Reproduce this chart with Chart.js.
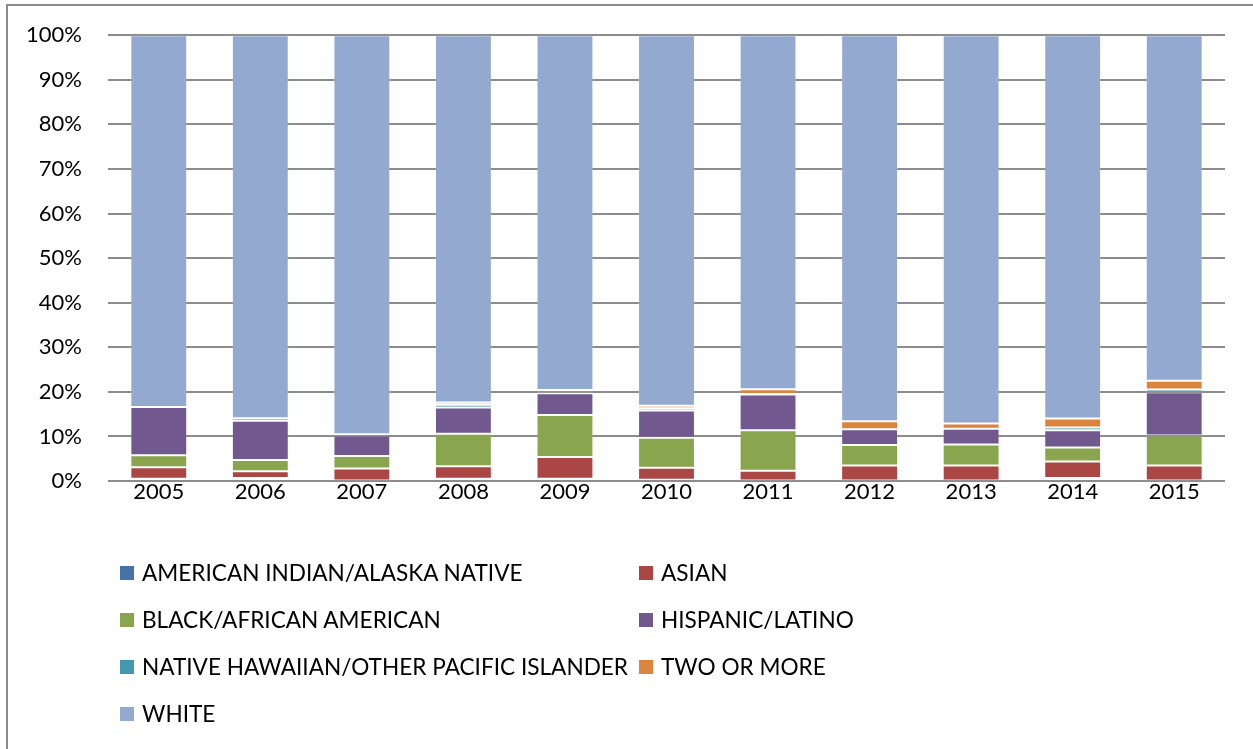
<!DOCTYPE html>
<html>
<head>
<meta charset="utf-8">
<script src="https://cdn.jsdelivr.net/npm/chart.js@4/dist/chart.umd.min.js"></script>
<style>
  html, body { margin: 0; padding: 0; background: #fff; }
  body { width: 1253px; height: 749px; position: relative; overflow: hidden; }
  #frame { position: absolute; left: 6px; top: 4px; width: 1300px; height: 800px;
           border-left: 2px solid #8a8a8a; border-top: 2px solid #8a8a8a; }
  canvas { position: absolute; left: 0; top: -4px; }
  #legend { position: absolute; left: 0; top: 0; width: 1253px; height: 749px; pointer-events: none;
            font-family: Lato, "Liberation Sans", sans-serif; font-size: 22.6px; color: #000; }
  .item { position: absolute; white-space: nowrap; line-height: 24px; height: 24px; }
  .sw { position: absolute; width: 14px; height: 14px; top: 5px; }
  .lbl { position: absolute; left: 22px; top: 0; }
</style>
</head>
<body>
<div id="frame"></div>
<canvas id="c" width="1253" height="753"></canvas>
<div id="legend"></div>
<script>
const years = ['2005','2006','2007','2008','2009','2010','2011','2012','2013','2014','2015'];
const americanIndian = [0.5, 0.7, 0.1, 0.5, 0.5, 0.3, 0.1, 0.1, 0.1, 0.7, 0.1];
const asian          = [2.6, 1.5, 2.7, 2.8, 4.9, 2.7, 2.2, 3.4, 3.4, 3.7, 3.4];
const black          = [2.7, 2.5, 2.8, 7.3, 9.4, 6.7, 9.1, 4.6, 4.7, 3.1, 6.7];
const hispanic       = [10.8, 8.8, 4.6, 5.9, 4.9, 6.1, 8.0, 3.5, 3.5, 3.9, 9.7];
const nativeHawaiian = [0.0, 0.6, 0.3, 0.6, 0.3, 0.5, 0.1, 0.0, 0.0, 0.6, 0.6];
const twoOrMore      = [0.0, 0.0, 0.0, 0.5, 0.4, 0.6, 1.1, 1.8, 1.2, 2.0, 2.0];
const white          = [83.4, 85.9, 89.5, 82.4, 79.6, 83.1, 79.4, 86.6, 87.1, 86.0, 77.5];
const yTicks = [0,10,20,30,40,50,60,70,80,90,100];

const seriesNames = ['AMERICAN INDIAN/ALASKA NATIVE','ASIAN','BLACK/AFRICAN AMERICAN','HISPANIC/LATINO',
  'NATIVE HAWAIIAN/OTHER PACIFIC ISLANDER','TWO OR MORE','WHITE'];
const seriesData = [americanIndian, asian, black, hispanic, nativeHawaiian, twoOrMore, white];
const seriesColors = ['#4572A7','#AA4643','#89A54E','#71588F','#4198AF','#DB843D','#93A9CF'];

const FONT = 'Lato, "Liberation Sans", sans-serif';

const datasets = seriesNames.map((n, i) => ({
  label: n,
  data: seriesData[i],
  backgroundColor: seriesColors[i],
  borderColor: 'rgba(255,255,255,0.12)',
  borderWidth: 1,
  borderSkipped: false,
  barPercentage: 0.56,
  categoryPercentage: 1.0
}));

const chart = new Chart(document.getElementById('c'), {
  type: 'bar',
  data: { labels: years, datasets },
  options: {
    responsive: false,
    animation: false,
    devicePixelRatio: 1,
    layout: { padding: { left: 0, right: 28, top: 31, bottom: 0 } },
    plugins: { legend: { display: false }, tooltip: { enabled: false } },
    scales: {
      x: {
        stacked: true,
        grid: { display: false, drawTicks: false },
        border: { display: false },
        ticks: { color: '#000', font: { family: FONT, size: 22 }, padding: -2 },
        afterFit: s => { s.height = 753 - 485; }
      },
      y: {
        stacked: true,
        min: 0, max: 100,
        afterBuildTicks: s => { s.ticks = yTicks.map(v => ({ value: v })); },
        grid: { color: '#8c8c8c', lineWidth: 2, drawTicks: false },
        border: { display: false },
        ticks: { color: '#000', font: { family: FONT, size: 22 }, padding: 26,
                 callback: v => v + '%' },
        afterFit: s => { s.width = 108; }
      }
    }
  }
});

// HTML legend built from the chart's datasets, two columns
const legend = document.getElementById('legend');
const colX = [120, 639];
const rowY = [561, 608, 655, 702];
chart.data.datasets.forEach((ds, i) => {
  const it = document.createElement('div');
  it.className = 'item';
  it.style.left = colX[i % 2] + 'px';
  it.style.top = rowY[Math.floor(i / 2)] + 'px';
  const sw = document.createElement('span');
  sw.className = 'sw';
  sw.style.background = ds.backgroundColor;
  const lb = document.createElement('span');
  lb.className = 'lbl';
  lb.textContent = ds.label;
  it.appendChild(sw); it.appendChild(lb);
  legend.appendChild(it);
});
</script>
</body>
</html>
